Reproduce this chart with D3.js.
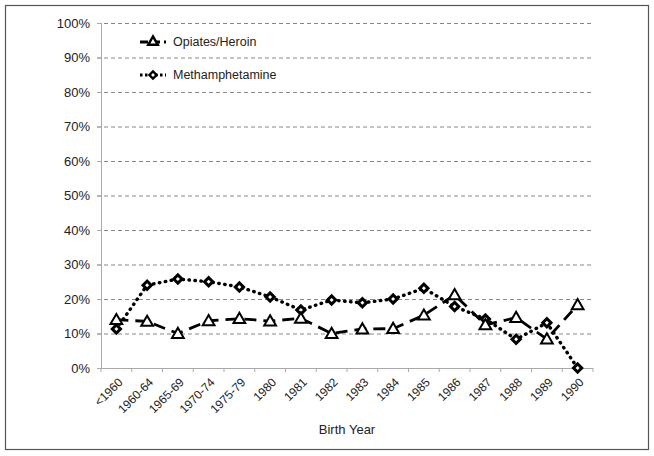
<!DOCTYPE html>
<meta charset="utf-8">
<style>
body { margin: 0; background: #fff; }
text { font-family: "Liberation Sans", Arial, sans-serif; fill: #222; }
.axis text { font-size: 13px; }
</style>
<body>
<script src="https://d3js.org/d3.v7.min.js"></script>
<script>

// data
const years = ["<1960", "1960-64", "1965-69", "1970-74", "1975-79", "1980", "1981", "1982",
  "1983", "1984", "1985", "1986", "1987", "1988", "1989", "1990"];
const opiates = [14.0, 13.5, 10.0, 13.7, 14.3, 13.6, 14.4, 10.0, 11.3, 11.4, 15.3, 21.2, 12.5, 14.6, 8.4, 18.3];
const meth = [11.3, 24.0, 25.8, 25.0, 23.5, 20.6, 16.8, 19.7, 18.9, 20.0, 23.1, 17.8, 14.2, 8.3, 13.1, 0];
const yTicks = [0, 10, 20, 30, 40, 50, 60, 70, 80, 90, 100];

const W = 654, H = 456;
const margin = {top: 23, right: 61, bottom: 88, left: 101};
const width = W - margin.left - margin.right,
    height = H - margin.top - margin.bottom;

const svg = d3.select("body").append("svg")
    .attr("width", W).attr("height", H);

// outer frame
svg.append("rect")
    .attr("x", 5.5).attr("y", 5.5)
    .attr("width", 643).attr("height", 444)
    .attr("fill", "none").attr("stroke", "#555").attr("stroke-width", 1.2);

const g = svg.append("g")
    .attr("transform", `translate(${margin.left},${margin.top})`);

const x = d3.scaleBand().domain(years).range([0, width]);
const y = d3.scaleLinear().domain([0, 100]).range([height, 0]);
const cx = d => x(d) + x.bandwidth() / 2;

// dashed grid
g.append("g")
  .selectAll("line")
  .data(yTicks.filter(t => t > 0))
  .join("line")
    .attr("x1", -4).attr("x2", width)
    .attr("y1", d => y(d) + 0.5).attr("y2", d => y(d) + 0.5)
    .attr("stroke", "#888").attr("stroke-dasharray", "4,3");

// y axis
const yAxis = g.append("g")
    .attr("class", "axis")
    .call(d3.axisLeft(y).tickValues(yTicks).tickSize(4).tickPadding(7)
      .tickFormat(d => d + "%"));
yAxis.select(".domain").attr("stroke", "#aaa").attr("d", `M0.5,0V${height}`);
yAxis.selectAll(".tick line").attr("stroke", "#aaa");

// x axis
const xAxis = g.append("g")
    .attr("class", "axis")
    .attr("transform", `translate(0,${height})`)
    .call(d3.axisBottom(x).tickSize(0).tickPadding(0));
xAxis.select(".domain").attr("stroke", "#aaa").attr("d", `M0,0.5H${width}`);
xAxis.selectAll(".tick text")
    .style("font-size", "12px")
    .attr("text-anchor", "end")
    .attr("transform", "translate(4,12) rotate(-45)")
    .attr("dy", "0.35em");
// ticks at category boundaries
g.append("g")
  .selectAll("line")
  .data(d3.range(years.length + 1))
  .join("line")
    .attr("x1", i => i * x.bandwidth()).attr("x2", i => i * x.bandwidth())
    .attr("y1", height).attr("y2", height + 4)
    .attr("stroke", "#aaa");

g.append("text")
    .attr("x", width / 2).attr("y", 411)
    .attr("text-anchor", "middle")
    .style("font-size", "13px")
    .text("Birth Year");

const line = d3.line().x((d, i) => cx(years[i])).y(d => y(d));

// methamphetamine
g.append("path")
    .datum(meth)
    .attr("d", line)
    .attr("fill", "none").attr("stroke", "#000").attr("stroke-width", 3.4)
    .attr("stroke-linecap", "round")
    .attr("stroke-dasharray", "0.5,5.5");
// opiates
g.append("path")
    .datum(opiates)
    .attr("d", line)
    .attr("fill", "none").attr("stroke", "#000").attr("stroke-width", 2.8)
    .attr("stroke-dasharray", "12,7");

const tri = d3.symbol().type(d3.symbolTriangle).size(60);
const dia = d3.symbol().type(d3.symbolSquare).size(34);

g.append("g").selectAll("path")
  .data(meth)
  .join("path")
    .attr("d", dia)
    .attr("transform", (d, i) => `translate(${cx(years[i])},${y(d)}) rotate(45)`)
    .attr("fill", "#fff").attr("stroke", "#000").attr("stroke-width", 3);

g.append("g").selectAll("path")
  .data(opiates)
  .join("path")
    .attr("d", tri)
    .attr("transform", (d, i) => `translate(${cx(years[i])},${y(d) + 1})`)
    .attr("fill", "#fff").attr("stroke", "#000").attr("stroke-width", 2);

// legend
const legend = [
  {name: "Opiates/Heroin", dash: "8,4", w: 2.8, sym: d3.symbol().type(d3.symbolTriangle).size(40), rot: 0, y: 42},
  {name: "Methamphetamine", dash: "2.5,2.5", w: 3, sym: d3.symbol().type(d3.symbolSquare).size(26), rot: 45, y: 75}
];
const lg = svg.append("g").selectAll("g")
  .data(legend)
  .join("g")
    .attr("transform", d => `translate(140,${d.y})`);
lg.append("line")
    .attr("x1", 0).attr("x2", 26)
    .attr("stroke", "#000")
    .attr("stroke-width", d => d.w)
    .attr("stroke-dasharray", d => d.dash);
lg.append("path")
    .attr("d", d => d.sym())
    .attr("transform", d => `translate(13,0) rotate(${d.rot})`)
    .attr("fill", "#fff").attr("stroke", "#000").attr("stroke-width", 2.4);
lg.append("text")
    .attr("x", 33).attr("dy", "0.35em")
    .style("font-size", "12.5px")
    .text(d => d.name);

</script>
</body>
